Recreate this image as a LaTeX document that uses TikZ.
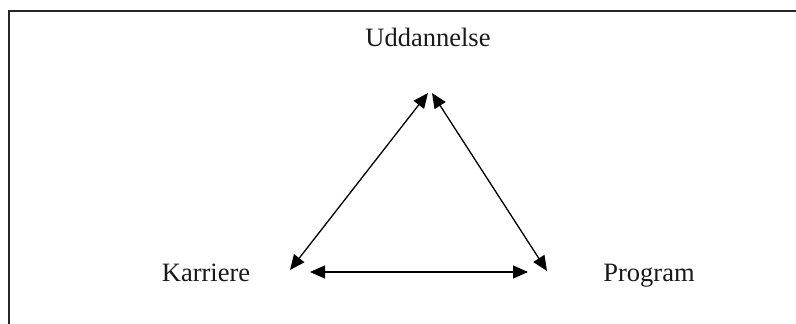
\documentclass[tikz,border=0pt]{standalone}
\usepackage{fontspec}
\setmainfont{Liberation Serif}
\usetikzlibrary{arrows.meta}
\tikzset{
  label text/.style={inner sep=0pt, font=\fontsize{26.5}{30}\selectfont, text=black!90},
  link/.style={line width=1.3pt, {Triangle[length=15pt,width=13pt]}-{Triangle[length=15pt,width=13pt]}},
  frame/.style={line width=1.6pt, draw=black!85}
}
\begin{document}
\begin{tikzpicture}[x=1pt,y=-1pt]
  \useasboundingbox (0,0) rectangle (796,324);
  % outer frame (right and bottom sides lie beyond the page)
  \draw[frame] (9,11) rectangle (820,340);
  % labels
  \node[label text, anchor=base] (udd) at (428,46) {Uddannelse};
  \node[label text, anchor=base] (kar) at (206,281) {Karriere};
  \node[label text, anchor=base] (prog) at (649,281) {Program};
  % arrow end points
  \coordinate (topL) at (428,93);
  \coordinate (topR) at (432,93);
  \coordinate (karT) at (290,270);
  \coordinate (botL) at (310,272);
  \coordinate (botR) at (528,272);
  \coordinate (progT) at (547,271);
  % connectors
  \draw[link] (topL) -- (karT);
  \draw[link] (topR) -- (progT);
  \draw[link] (botL) -- (botR);
\end{tikzpicture}
\end{document}
